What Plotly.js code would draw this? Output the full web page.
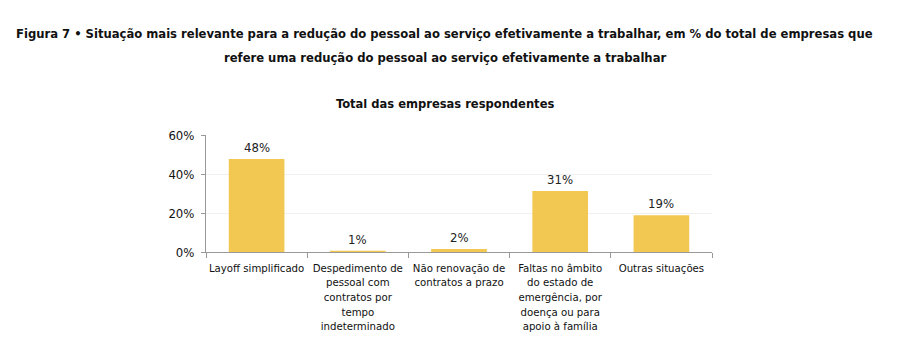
<!DOCTYPE html>
<html><head><meta charset="utf-8">
<script src="https://cdn.plot.ly/plotly-3.0.1.min.js"></script>
<style>body{margin:0;background:#fff}#c{width:900px;height:358px}</style>
</head><body><div id="c"></div>
<script>
const categories = [
  "Layoff simplificado",
  "Despedimento de<br>pessoal com<br>contratos por<br>tempo<br>indeterminado",
  "Não renovação de<br>contratos a prazo",
  "Faltas no âmbito<br>do estado de<br>emergência, por<br>doença ou para<br>apoio à família",
  "Outras situações"
];
const values = [47.7, 0.6, 1.6, 31.3, 18.9];
const valueLabels = ["48%", "1%", "2%", "31%", "19%"];
const yTickVals = [0, 20, 40, 60];
const yTickText = ["0%", "20%", "40%", "60%"];
const titleLine1 = "Figura 7 • Situação mais relevante para a redução do pessoal ao serviço efetivamente a trabalhar, em % do total de empresas que";
const titleLine2 = "refere uma redução do pessoal ao serviço efetivamente a trabalhar";
const subTitle = "Total das empresas respondentes";

const bodyFont = "'DejaVu Sans Condensed', 'Liberation Sans', sans-serif";

const annotations = values.map((v, i) => ({
  x: categories[i], y: v, xref: 'x', yref: 'y',
  text: valueLabels[i], showarrow: false, yanchor: 'bottom', yshift: 2,
  font: {family: bodyFont, size: 13, color: '#222'}
}));
const cx = 0.472;
annotations.push(
  {xref:'paper', yref:'paper', x:cx, y:1, yshift:102, xanchor:'center', yanchor:'middle', showarrow:false,
   text:'<b>'+titleLine1+'</b>', font:{family:bodyFont, size:12.9, color:'#111'}},
  {xref:'paper', yref:'paper', x:cx, y:1, yshift:78, xanchor:'center', yanchor:'middle', showarrow:false,
   text:'<b>'+titleLine2+'</b>', font:{family:bodyFont, size:12.9, color:'#111'}},
  {xref:'paper', yref:'paper', x:cx, y:1, yshift:32, xanchor:'center', yanchor:'middle', showarrow:false,
   text:'<b>'+subTitle+'</b>', font:{family:bodyFont, size:12.8, color:'#111'}}
);

Plotly.newPlot('c', [{
  type: 'bar', x: categories, y: values,
  marker: {color: '#F2C752'}, width: 0.55, hoverinfo: 'none'
}], {
  width: 900, height: 358,
  margin: {l: 206, r: 188, t: 135, b: 106},
  paper_bgcolor: '#fff', plot_bgcolor: '#fff',
  showlegend: false,
  xaxis: {
    type: 'category', tickson: 'boundaries', ticks: 'outside', ticklen: 5, tickcolor: '#999',
    showline: true, linecolor: '#999', linewidth: 1, showgrid: false, tickangle: 0,
    ticklabelstandoff: 5,
    tickfont: {family: bodyFont, size: 11.3, color: '#111'}, automargin: false
  },
  yaxis: {
    range: [0, 60], tickvals: yTickVals, ticktext: yTickText,
    showline: true, linecolor: '#999', ticks: 'outside', ticklen: 4, tickcolor: '#999',
    ticklabelstandoff: 4,
    gridcolor: '#f0f0f0', zeroline: false,
    tickfont: {family: bodyFont, size: 13, color: '#111'}, automargin: false
  },
  annotations: annotations
}, {staticPlot: true});
</script></body></html>
